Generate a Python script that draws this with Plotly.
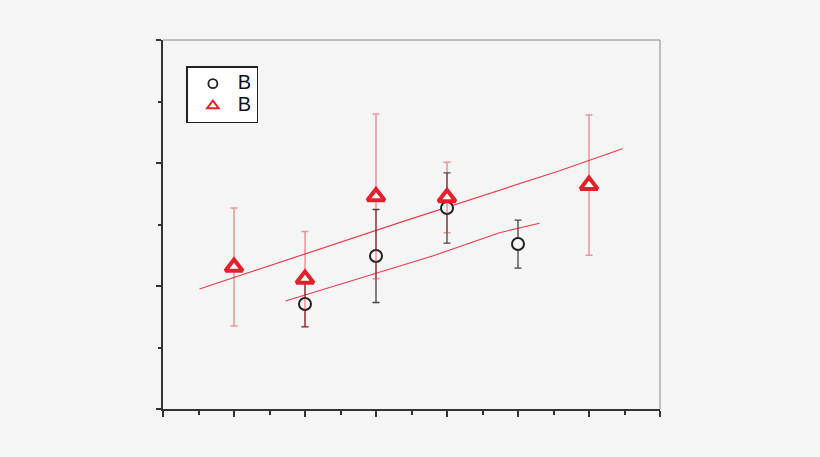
import plotly.graph_objects as go

# Data
circ_x = [2, 3, 4, 5]
circ_y = [0.854, 1.244, 1.634, 1.341]
circ_err = [0.187, 0.378, 0.285, 0.195]

tri_x = [1, 2, 3, 4, 6]
tri_y = [1.154, 1.057, 1.728, 1.720, 1.820]
tri_err = [0.48, 0.386, 0.67, 0.287, 0.57]

red_line_x = [0.514, 3.331, 5.585, 6.472]
red_line_y = [0.976, 1.515, 1.937, 2.116]

low_line_x = [1.725, 2.627, 3.331, 3.796, 4.739, 5.303]
low_line_y = [0.878, 1.040, 1.163, 1.244, 1.433, 1.510]

legend_names = ["B", "B"]

RED = "#e3202b"
BG = "#f5f5f5"

fig = go.Figure()

fig.add_trace(go.Scatter(x=red_line_x, y=red_line_y, mode="lines",
                         line=dict(color="rgba(227,32,43,0.85)", width=1.2),
                         showlegend=False, hoverinfo="skip"))
fig.add_trace(go.Scatter(x=low_line_x, y=low_line_y, mode="lines",
                         line=dict(color="rgba(227,32,43,0.85)", width=1.2),
                         showlegend=False, hoverinfo="skip"))

fig.add_trace(go.Scatter(
    x=circ_x, y=circ_y, mode="markers", showlegend=False,
    marker=dict(symbol="circle", size=12, color=BG,
                line=dict(color="#222222", width=2)),
    error_y=dict(type="data", array=circ_err, visible=True,
                 color="#444444", thickness=1.3, width=3.5),
))
fig.add_trace(go.Scatter(
    x=tri_x, y=tri_y, mode="markers", showlegend=False,
    marker=dict(symbol="triangle-up", size=15, color="white",
                line=dict(color=RED, width=4)),
    error_y=dict(type="data", array=tri_err, visible=True,
                 color="rgba(227,32,43,0.45)", thickness=1.5, width=3.5),
))

# legend-only entries (smaller symbols, as in the reference legend)
fig.add_trace(go.Scatter(
    x=[None], y=[None], mode="markers",
    name="<span style='font-size:20px'>%s</span>" % legend_names[0],
    marker=dict(symbol="circle", size=9, color="white",
                line=dict(color="#222222", width=1.8)),
))
fig.add_trace(go.Scatter(
    x=[None], y=[None], mode="markers",
    name="<span style='font-size:20px'>%s</span>" % legend_names[1],
    marker=dict(symbol="triangle-up", size=10, color="white",
                line=dict(color=RED, width=2)),
))

axis_common = dict(showgrid=False, zeroline=False, showticklabels=False,
                   ticks="outside", showline=True, linecolor="#333333",
                   linewidth=2, tickcolor="#333333", tickwidth=2)

fig.update_xaxes(range=[0, 7], dtick=1, tick0=0, ticklen=6,
                 minor=dict(ticks="outside", dtick=0.5, ticklen=4,
                            tickcolor="#333333", tickwidth=1.5),
                 **axis_common)
fig.update_yaxes(range=[0, 3], dtick=1, tick0=0, ticklen=5,
                 minor=dict(ticks="outside", dtick=0.5, ticklen=3,
                            tickcolor="#333333", tickwidth=1.5),
                 **axis_common)

# top and right frame lines (lighter)
fig.add_shape(type="line", xref="paper", yref="paper", x0=0, x1=1, y0=1, y1=1,
              line=dict(color="#888888", width=1))
fig.add_shape(type="line", xref="paper", yref="paper", x0=1, x1=1, y0=0, y1=1,
              line=dict(color="#888888", width=1))

fig.update_layout(
    width=820, height=457,
    margin=dict(l=163, r=160, t=40, b=48),
    paper_bgcolor=BG, plot_bgcolor=BG,
    font=dict(family="Liberation Sans, Arial, sans-serif", color="#111111"),
    legend=dict(x=0.047, y=0.929, xanchor="left", yanchor="top",
                bgcolor="white", bordercolor="#222222", borderwidth=1.5,
                font=dict(size=14.6), itemwidth=40, tracegroupgap=0),
)

fig.write_html("out.html",
               config={"displayModeBar": False},
               post_script="document.body.style.margin='0';"
                           "document.body.style.background='#f5f5f5';")
